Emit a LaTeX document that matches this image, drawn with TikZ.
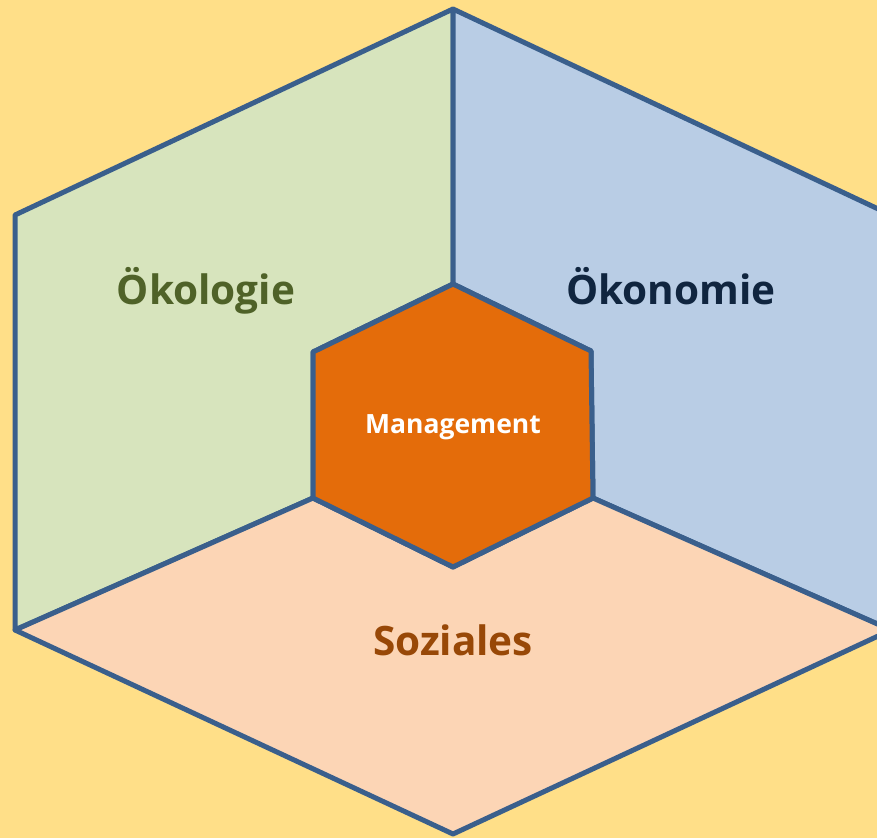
\documentclass[tikz,border=0pt]{standalone}
\usepackage{fontspec}
\setmainfont{Open Sans}
\definecolor{bgc}{HTML}{FFDF88}
\definecolor{greenf}{HTML}{D7E4BD}
\definecolor{bluef}{HTML}{B9CDE5}
\definecolor{peachf}{HTML}{FCD5B5}
\definecolor{orangef}{HTML}{E46C0A}
\definecolor{linec}{HTML}{3A5F8C}
\definecolor{greent}{HTML}{4F6228}
\definecolor{bluet}{HTML}{10253F}
\definecolor{brownt}{HTML}{984807}
\tikzset{
  face/.style={draw=linec, line width=5pt, line join=round},
  lbl/.style={font=\bfseries\fontsize{40.5}{46}\selectfont, inner sep=0pt, anchor=base},
}
\begin{document}
\begin{tikzpicture}[x=1pt,y=-1pt]
\useasboundingbox (0,0) rectangle (877,838);
\fill[bgc] (0,0) rectangle (877,838);
% outer vertices
\coordinate (OT) at (453,9);
\coordinate (OUL) at (15,215);
\coordinate (OLL) at (15,630);
\coordinate (OB) at (453,834);
\coordinate (OUR) at (891,215);
\coordinate (OLR) at (891,630);
% inner vertices
\coordinate (IT) at (453,284);
\coordinate (IUL) at (313,352);
\coordinate (ILL) at (313,498);
\coordinate (IB) at (453,567);
\coordinate (ILR) at (593,498);
\coordinate (IUR) at (591,351);
\begin{scope}
\clip (0,0) rectangle (877,838);
\filldraw[face, fill=greenf] (OT) -- (OUL) -- (OLL) -- (ILL) -- (IUL) -- (IT) -- cycle;
\filldraw[face, fill=bluef] (OT) -- (OUR) -- (OLR) -- (ILR) -- (IUR) -- (IT) -- cycle;
\filldraw[face, fill=peachf] (OLL) -- (OB) -- (OLR) -- (ILR) -- (IB) -- (ILL) -- cycle;
\filldraw[face, fill=orangef] (IT) -- (IUR) -- (ILR) -- (IB) -- (ILL) -- (IUL) -- cycle;
\end{scope}
\node[lbl, text=greent] (oek) at (206,304) {Ökologie};
\node[lbl, text=bluet] (oekon) at (671,304) {Ökonomie};
\node[lbl, text=brownt] (soz) at (453,655) {Soziales};
\node[inner sep=0pt, anchor=base, text=white, font=\bfseries\fontsize{26.5}{30}\selectfont] (mgmt) at (453,433) {Management};
\end{tikzpicture}
\end{document}
